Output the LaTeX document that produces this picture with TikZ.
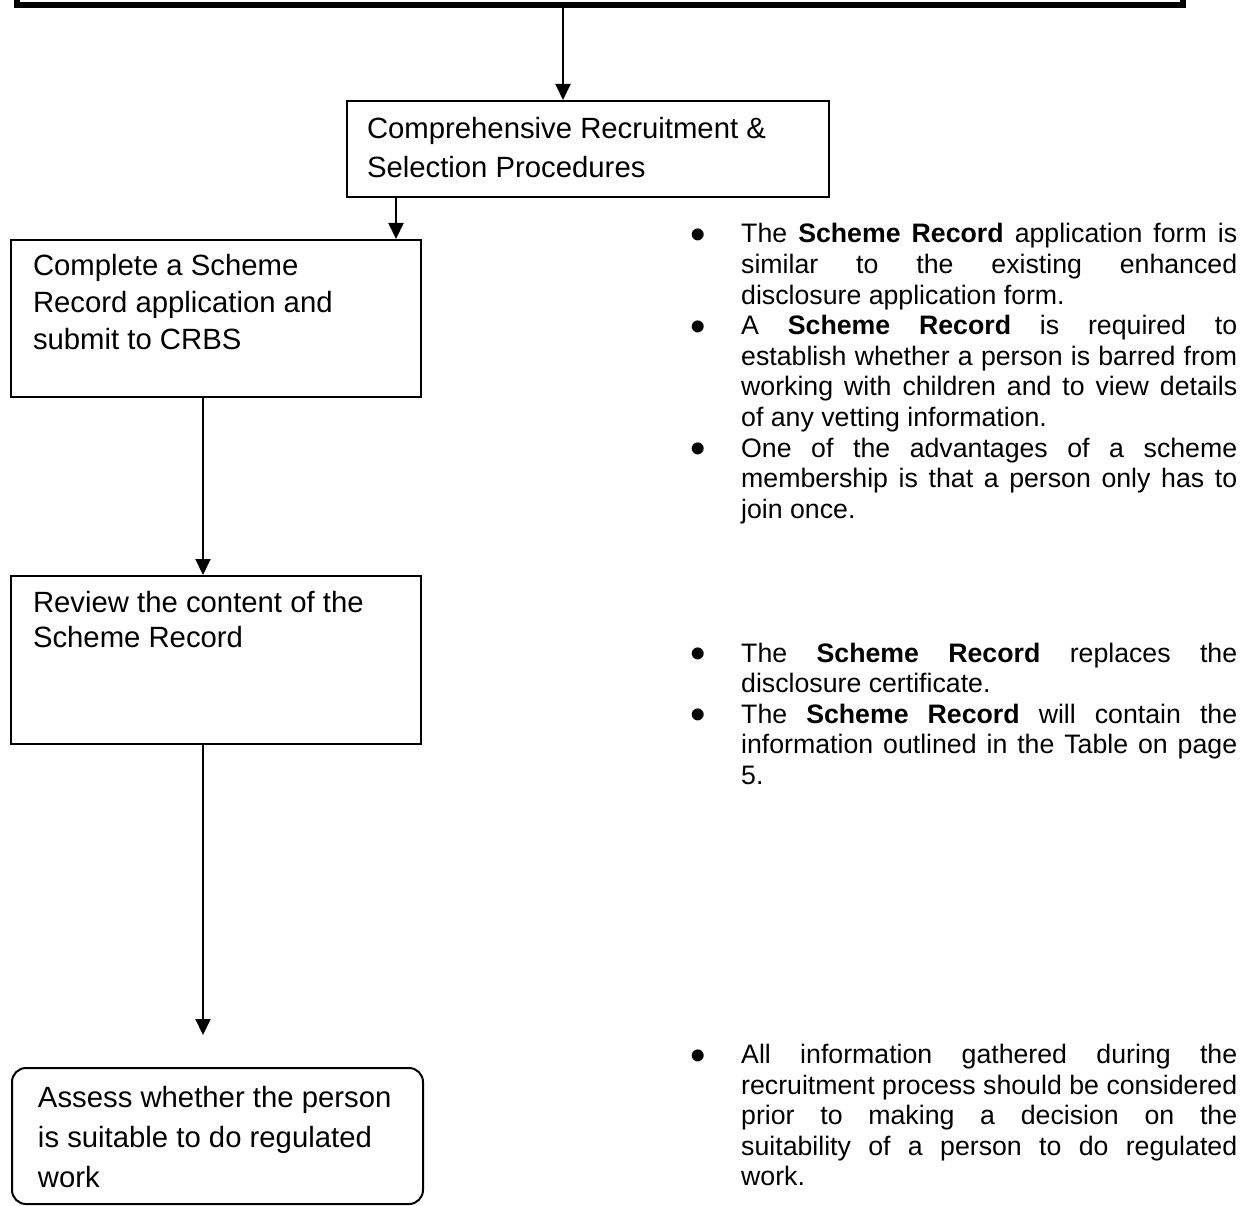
\documentclass[tikz,border=0pt]{standalone}
\usepackage{fontspec}
\setmainfont{Liberation Sans}
\usetikzlibrary{arrows.meta}
% #1 width, #2 height, #3 left pad, #4 first baseline, #5 font size, #6 baselineskip, #7 text
\newcommand{\boxtxt}[7]{\begin{minipage}[t][#2][t]{#1}\fontsize{#5}{#6}\selectfont\raggedright\leftskip=#3\relax\rule{0pt}{#4}#7\end{minipage}}
\newcommand{\blt}{\makebox[50pt][l]{\hspace*{-0.5pt}\smash{\raisebox{-6.5pt}{\fontsize{44pt}{44pt}\selectfont •}}}}
\newcommand{\ind}{\hspace*{50pt}}
\newcommand{\jl}[1]{\makebox[496pt][s]{#1}}
\newcommand{\lastl}[1]{\makebox[496pt][l]{#1}}
\newcommand{\SR}{\textbf{Scheme Record}}
\tikzset{
  boxst/.style={draw, line width=2pt, inner sep=0pt, anchor=north west},
  topst/.style={draw, line width=6pt, inner sep=0pt, anchor=south west},
  arr/.style={line width=2pt, -{Triangle[length=16pt,width=15pt]}},
  notes/.style={anchor=base west, inner sep=0pt}
}
\begin{document}
\begin{tikzpicture}[x=1pt, y=-1pt]
\useasboundingbox (0,0) rectangle (1253,1206);
% top bar (cut off by the page edge)
\node[topst, minimum width=1166.3pt, minimum height=200pt] (top) at (13.7,7.7) {};
% boxes
\node[boxst] (b1) at (346,100) {\boxtxt{482pt}{96pt}{20pt}{38pt}{29.3pt}{39pt}{Comprehensive Recruitment \&\\ Selection Procedures}};
\node[boxst] (b2) at (10,239) {\boxtxt{410pt}{157pt}{22pt}{36pt}{29.3pt}{37pt}{Complete a Scheme\\ Record application and\\ submit to CRBS}};
\node[boxst] (b3) at (10,575) {\boxtxt{410pt}{168pt}{22pt}{36pt}{29.3pt}{35pt}{Review the content of the\\ Scheme Record}};
\node[boxst, rounded corners=14pt] (b4) at (11,1067) {\boxtxt{411pt}{136pt}{26pt}{39pt}{29.3pt}{40pt}{Assess whether the person\\ is suitable to do regulated\\ work}};
% connector x positions
\coordinate (a1) at (563,0);
\coordinate (a2) at (396,0);
\coordinate (a3) at (203,0);
\coordinate (a4end) at (203,1035);
\draw[arr] (top.south -| a1) -- (b1.north -| a1);
\draw[arr] (b1.south -| a2) -- (b2.north -| a2);
\draw[arr] (b2.south -| a3) -- (b3.north -| a3);
\draw[arr] (b3.south -| a3) -- (a4end);
% notes
\node[notes] (r1) at (691,243) {\begin{minipage}[t]{546pt}\fontsize{26.7pt}{30.6pt}\selectfont\parindent=0pt
\blt\jl{The \SR{} application form is}\\
\ind\jl{similar to the existing enhanced}\\
\ind\lastl{disclosure application form.}\\
\blt\jl{A \SR{} is required to}\\
\ind\jl{establish whether a person is barred from}\\
\ind\jl{working with children and to view details}\\
\ind\lastl{of any vetting information.}\\
\blt\jl{One of the advantages of a scheme}\\
\ind\jl{membership is that a person only has to}\\
\ind\lastl{join once.}\end{minipage}};
\node[notes] (r2) at (691,662) {\begin{minipage}[t]{546pt}\fontsize{26.7pt}{30.6pt}\selectfont\parindent=0pt
\blt\jl{The \SR{} replaces the}\\
\ind\lastl{disclosure certificate.}\\
\blt\jl{The \SR{} will contain the}\\
\ind\jl{information outlined in the Table on page}\\
\ind\lastl{5.}\end{minipage}};
\node[notes] (r3) at (691,1063.5) {\begin{minipage}[t]{546pt}\fontsize{26.7pt}{30.6pt}\selectfont\parindent=0pt
\blt\jl{All information gathered during the}\\
\ind\jl{recruitment process should be considered}\\
\ind\jl{prior to making a decision on the}\\
\ind\jl{suitability of a person to do regulated}\\
\ind\lastl{work.}\end{minipage}};
\end{tikzpicture}
\end{document}
